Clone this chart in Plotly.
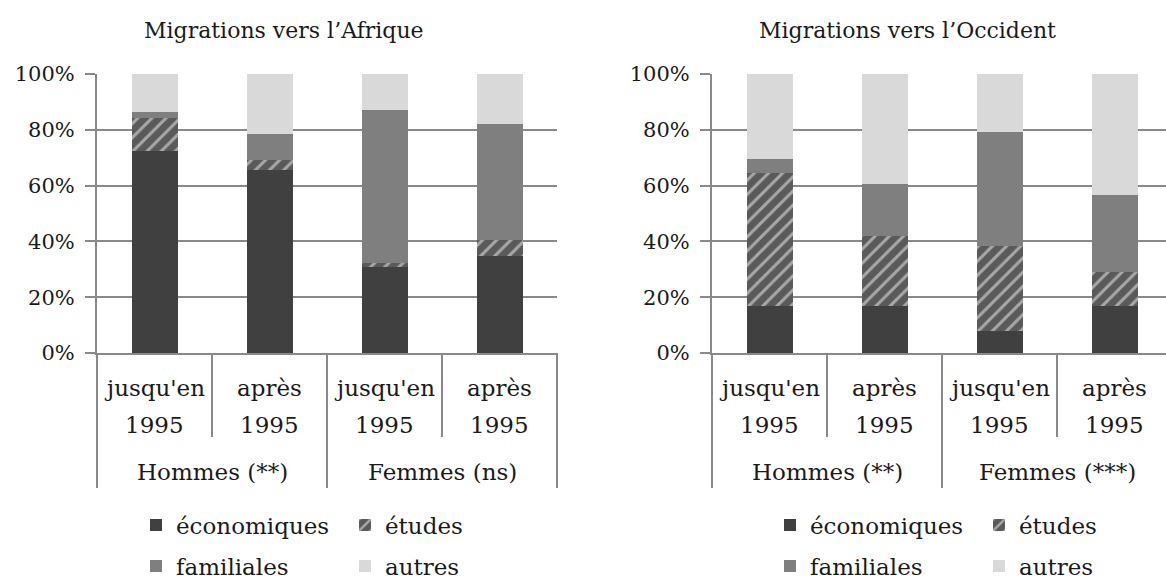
import plotly.graph_objects as go

# ---- data ----
periods = ["jusqu'en", "après"]
period_year = "1995"
afr_groups = ["Hommes (**)", "Femmes (ns)"]
occ_groups = ["Hommes (**)", "Femmes (***)"]

reasons = ["économiques", "études", "familiales", "autres"]

# Migrations vers l'Afrique (%)
afr_eco = [72.5, 65.6, 30.9, 34.8]
afr_etu = [11.8, 3.6, 1.5, 5.7]
afr_fam = [2.2, 9.4, 54.7, 41.5]
afr_aut = [13.5, 21.4, 12.9, 18.0]

# Migrations vers l'Occident (%)
occ_eco = [17.0, 17.0, 8.0, 17.0]
occ_etu = [47.6, 24.9, 30.4, 12.0]
occ_fam = [5.0, 18.7, 40.9, 27.6]
occ_aut = [30.4, 39.4, 20.7, 43.4]

y_ticks = [0, 20, 40, 60, 80, 100]

# ---- style ----
FONT = "DejaVu Serif"
GRID = "#898989"
TXT = "#1a1a1a"
COLORS = {"économiques": "#404040", "études": "#5a5a5a",
          "familiales": "#7f7f7f", "autres": "#d9d9d9"}

W, H = 1166, 583
ML, MT, MB = 97, 74, 230
PW = W - ML           # paper width in px
CAT_PX = 115          # px per category in the reference


def cats(groups):
    return [f"{g}|{p}" for g in groups for p in periods]


afr_cats = cats(afr_groups)
occ_cats = cats(occ_groups)

fig = go.Figure()

panels = [
    ("x", "y", afr_cats, [afr_eco, afr_etu, afr_fam, afr_aut], ["legend", "legend", "legend2", "legend2"]),
    ("x2", "y2", occ_cats, [occ_eco, occ_etu, occ_fam, occ_aut], ["legend3", "legend3", "legend4", "legend4"]),
]

for xa, ya, xc, series, legs in panels:
    for name, vals, leg in zip(reasons, series, legs):
        marker = dict(color=COLORS[name], line=dict(width=0))
        if name == "études":
            marker["pattern"] = dict(shape="/", bgcolor="#5a5a5a", fgcolor="#a8a8a8",
                                     size=10, solidity=0.3, fillmode="replace")
        fig.add_trace(go.Bar(x=xc, y=vals, name=name, marker=marker,
                             xaxis=xa, yaxis=ya, legend=leg))

x1_dom = [0, 460 / PW]
x2_dom = [615 / PW, 1]
x2_range = [-0.5, -0.5 + (W - ML - 615) / CAT_PX]

xcommon = dict(type="category", showticklabels=False, showgrid=False,
               showline=True, linecolor=GRID, linewidth=2, ticks="", zeroline=False)
ycommon = dict(range=[0, 100], tickmode="array", tickvals=y_ticks,
               ticktext=[f"{v}%" for v in y_ticks], showgrid=True,
               gridcolor=GRID, gridwidth=2, showline=True, linecolor=GRID, linewidth=2,
               ticks="outside", ticklen=10, tickwidth=2, tickcolor=GRID, zeroline=False,
               tickfont=dict(family=FONT, size=21, color=TXT), ticklabelstandoff=6)

fig.update_layout(
    xaxis=dict(domain=x1_dom, range=[-0.5, 3.5], anchor="y", **xcommon),
    yaxis=dict(anchor="x", **ycommon),
    xaxis2=dict(domain=x2_dom, range=x2_range, anchor="y2", **xcommon),
    yaxis2=dict(anchor="x2", **ycommon),
    barmode="stack", bargap=0.6,
    width=W, height=H,
    margin=dict(l=ML, r=0, t=MT, b=MB, pad=0),
    plot_bgcolor="white", paper_bgcolor="white",
    font=dict(family=FONT, size=23, color=TXT),
)

# legends: one per row and per chart, two entries each
leg_common = dict(orientation="h", xref="container", yref="container", xanchor="left",
                  yanchor="middle", entrywidth=164, entrywidthmode="pixels",
                  traceorder="normal", bgcolor="rgba(0,0,0,0)",
                  font=dict(family=FONT, size=23, color=TXT),
                  tracegroupgap=0, itemclick=False)
fig.update_layout(
    legend=dict(x=136 / W, y=1 - 525 / H, **leg_common),
    legend2=dict(x=136 / W, y=1 - 566 / H, **leg_common),
    legend3=dict(x=770 / W, y=1 - 525 / H, **leg_common),
    legend4=dict(x=770 / W, y=1 - 566 / H, **leg_common),
)

# category labels, group labels and divider lines under each chart
for xa, ya, xc, groups, rng in [("x", "y", afr_cats, afr_groups, [-0.5, 3.5]),
                                 ("x2", "y2", occ_cats, occ_groups, x2_range)]:
    ydom = ya + " domain"
    for c in xc:
        period = c.split("|")[1]
        fig.add_annotation(x=c, xref=xa, y=0, yref=ydom, yshift=-35, text=period,
                           showarrow=False, xanchor="center", yanchor="middle")
        fig.add_annotation(x=c, xref=xa, y=0, yref=ydom, yshift=-72, text=period_year,
                           showarrow=False, xanchor="center", yanchor="middle")
    for gi, g in enumerate(groups):
        fig.add_annotation(x=gi * 2 + 0.5, xref=xa, y=0, yref=ydom, yshift=-119, text=g,
                           showarrow=False, xanchor="center", yanchor="middle")
    for b in range(len(xc) + 1):
        pos = b - 0.5
        frac = (pos - rng[0]) / (rng[1] - rng[0])
        if frac > 1.001:
            continue
        depth = 135 if b % 2 == 0 else 84
        fig.add_shape(type="line", xref=xa + " domain", x0=frac, x1=frac,
                      yref=ydom, ysizemode="pixel", yanchor=0, y0=0, y1=-depth,
                      line=dict(color=GRID, width=2))

# chart titles
fig.add_annotation(x=(284 - ML) / PW, xref="paper", y=1, yref="paper", yshift=44,
                   text="Migrations vers l’Afrique", showarrow=False,
                   xanchor="center", yanchor="middle", font=dict(size=22))
fig.add_annotation(x=(907 - ML) / PW, xref="paper", y=1, yref="paper", yshift=44,
                   text="Migrations vers l’Occident", showarrow=False,
                   xanchor="center", yanchor="middle", font=dict(size=22))

fig.write_html("out.html", config={"displayModeBar": False},
               post_script="document.body.style.margin='0';")
